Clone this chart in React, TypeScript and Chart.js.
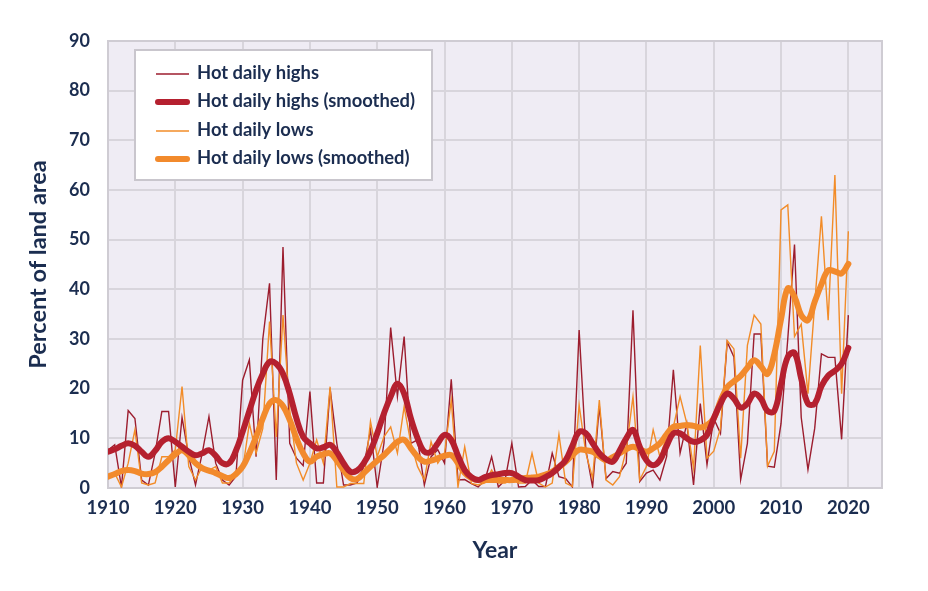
import React, { useEffect, useRef } from "react";
import { Chart, registerables } from "chart.js";

Chart.register(...registerables);

const years: number[] = Array.from({ length: 111 }, (_, i) => 1910 + i);

const hotHighs: number[] = [
  7.6, 8.7, 0.2, 15.6, 14, 1.6, 0.6, 7, 15.4, 15.4,
  0.2, 14.2, 6.3, 0.6, 7, 14.4, 5, 1.6, 0.6, 2.3,
  21.7, 25.8, 6.3, 30, 41.2, 1.6, 48.5, 9, 6, 4.5,
  19.4, 1, 1, 20, 9, 0.6, 0.6, 1, 4.3, 11.7,
  0.2, 9, 32.3, 18.4, 30.5, 9, 9.7, 0.6, 6.3, 7.7,
  5, 21.9, 1.6, 1.7, 0.9, 0.2, 1.6, 6.3, 0.2, 1.6,
  9, 0.2, 0.3, 1.6, 0.3, 0.3, 7, 2.3, 1.9, 0.2,
  31.8, 7.7, 0.2, 16.5, 1.9, 3.3, 3, 5, 35.8, 1.3,
  3, 3.6, 1.6, 6.3, 23.8, 7, 13, 0.6, 17, 4.7,
  14, 11, 29.4, 26.4, 1.7, 9, 31, 31, 4.4, 4.2,
  13, 30, 49, 14.2, 3.7, 12, 27, 26.3, 26.3, 9.8,
  34.8,
];

const hotHighsSmoothed: number[] = [
  7.3, 7.8, 8.5, 9, 8.5, 7.3, 6.3, 7.5, 9.3, 10,
  9.3, 8.3, 7.3, 6.6, 7, 7.6, 6.5, 5, 5, 7.5,
  11.3, 15.5, 19.7, 23, 25.4, 25, 23, 19, 14, 10.3,
  9, 8, 8.2, 8.7, 7.2, 5, 3.3, 3.5, 5, 7.5,
  11, 15, 18.4, 21, 19, 14, 10, 7.3, 7.3, 9,
  10.7, 9.7, 6.5, 3.6, 2.2, 1.6, 2.2, 2.6, 2.8, 3,
  3, 2.3, 1.6, 1.5, 1.6, 2.2, 3, 4.2, 5.6, 8.5,
  11.3, 11, 9, 7, 5.8, 5.3, 7.5, 10, 11.7, 8.3,
  5.6, 4.6, 5.6, 8.5, 11, 11, 10, 9.3, 9.6, 10.7,
  14, 17, 19, 18, 16.2, 17, 19, 18, 15.5, 15.5,
  21, 26.4, 27.2, 22, 17, 17, 20.5, 22.6, 23.6, 25,
  28.2,
];

const hotLows: number[] = [
  2.3, 3, 0.2, 5, 11.7, 1, 0.6, 1, 6.3, 6.3,
  7.7, 20.4, 4.3, 1.6, 4.3, 3.6, 4.3, 1, 1, 3,
  3.6, 13, 7, 12, 33.5, 10.3, 34.8, 15.7, 5, 1.6,
  5, 9.7, 5, 20.4, 0.2, 0.2, 0.9, 0.9, 0.9, 13.4,
  6.3, 10.3, 12.3, 7, 16.4, 9, 4.3, 1.6, 9.3, 5,
  7, 17.7, 0.2, 8.3, 0.9, 0.6, 1, 3.6, 1, 1,
  1.6, 1, 1, 7, 1, 0.2, 1, 10.8, 1, 0.3,
  16.7, 7, 2, 17.7, 1.6, 0.6, 2.3, 7.7, 18.4, 1.6,
  4.3, 11.7, 6.3, 10.3, 12.3, 18.4, 13, 4, 28.7, 6,
  7.4, 12, 29.7, 28, 6, 28.7, 34.8, 33, 4.4, 7.4,
  56, 57, 30.5, 33, 19, 37, 54.7, 33.8, 63, 19,
  51.7,
];

const hotLowsSmoothed: number[] = [
  2.3, 2.8, 3.4, 3.6, 3.4, 2.9, 2.8, 3.2, 4.3, 5.6,
  6.8, 7.6, 6.6, 5, 4, 3.5, 3, 2.4, 2, 2.8,
  4.3, 7, 10.3, 14, 17, 17.7, 16.5, 13.7, 10, 7,
  5.3, 6.3, 6.8, 7, 5.5, 3.6, 2, 1.8, 3, 4.3,
  5.5, 6.6, 8, 9.3, 9.7, 8, 6.3, 5.3, 5.5, 6,
  6.5, 6.6, 5, 3, 2, 1.6, 1.6, 1.6, 1.6, 1.6,
  1.6, 1.8, 2, 2.1, 2.3, 2.7, 3.3, 4.2, 5.3, 6.6,
  7.7, 7.6, 7.3, 6.4, 5.6, 6.2, 7, 7.8, 8.3, 7.8,
  7.3, 8, 9, 10.8, 12.3, 12.5, 12.7, 12.5, 12.2, 12.7,
  14, 17.5, 20.3, 21.5, 22.6, 24.2, 25.7, 24.5, 23, 27,
  34, 40.2, 38.5, 34.8, 33.8, 37.5, 41, 43.8, 43.6, 43.2,
  45.1,
];

const seriesLabels: string[] = [
  "Hot daily highs",
  "Hot daily highs (smoothed)",
  "Hot daily lows",
  "Hot daily lows (smoothed)",
];

const xTickValues: number[] = [1910, 1920, 1930, 1940, 1950, 1960, 1970, 1980, 1990, 2000, 2010, 2020];

const TEXT = "#1b2d50";
const FONT = "Lato, 'Open Sans', sans-serif";
const C_HIGH = "#9c1d2e";
const C_HIGH_S = "#b5202f";
const C_LOW = "#f28c28";
const C_LOW_S = "#f28a2c";

export default function App() {
  const ref = useRef<HTMLCanvasElement | null>(null);

  useEffect(() => {
    if (!ref.current) return;
    const toPts = (arr: number[]) => years.map((y, i) => ({ x: y, y: arr[i] }));

    const bgPlugin = {
      id: "bgPlugin",
      beforeDraw(chart: any) {
        const { ctx, chartArea: a } = chart;
        ctx.save();
        ctx.fillStyle = "#ffffff";
        ctx.fillRect(0, 0, chart.width, chart.height);
        ctx.fillStyle = "#efecf4";
        ctx.fillRect(a.left, a.top, a.right - a.left, a.bottom - a.top);
        ctx.restore();
      },
      beforeDatasetsDraw(chart: any) {
        const { ctx, chartArea: a } = chart;
        ctx.save();
        ctx.strokeStyle = "#cfccd3";
        ctx.lineWidth = 2;
        ctx.strokeRect(a.left, a.top, a.right - a.left, a.bottom - a.top);
        ctx.restore();
      },
      afterDraw(chart: any) {
        const { ctx } = chart;
        ctx.save();
        const bx = 135, by = 50, bw = 297, bh = 130;
        ctx.fillStyle = "#ffffff";
        ctx.fillRect(bx, by, bw, bh);
        ctx.strokeStyle = "#c9c6cd";
        ctx.lineWidth = 2;
        ctx.strokeRect(bx, by, bw, bh);
        const items = [
          { c: C_HIGH, w: 1.5 },
          { c: C_HIGH_S, w: 6 },
          { c: C_LOW, w: 1.5 },
          { c: C_LOW_S, w: 6 },
        ];
        const rows = [73, 101, 130, 158];
        ctx.font = `bold 18.4px ${FONT}`;
        ctx.textBaseline = "middle";
        ctx.textAlign = "left";
        items.forEach((it, i) => {
          ctx.beginPath();
          ctx.strokeStyle = it.c;
          ctx.lineWidth = it.w;
          ctx.lineCap = it.w > 2 ? "round" : "butt";
          ctx.moveTo(it.w > 2 ? 158 : 156, rows[i] + 1);
          ctx.lineTo(it.w > 2 ? 187 : 189, rows[i] + 1);
          ctx.stroke();
          ctx.fillStyle = TEXT;
          ctx.fillText(seriesLabels[i], 197, rows[i]);
        });
        ctx.restore();
      },
    };

    const chart = new Chart(ref.current, {
      type: "line",
      data: {
        datasets: [
          { label: seriesLabels[0], data: toPts(hotHighs), borderColor: C_HIGH, borderWidth: 1.4, pointRadius: 0, tension: 0, order: 4 },
          { label: seriesLabels[2], data: toPts(hotLows), borderColor: C_LOW, borderWidth: 1.4, pointRadius: 0, tension: 0, order: 3 },
          { label: seriesLabels[3], data: toPts(hotLowsSmoothed), borderColor: C_LOW_S, borderWidth: 6, pointRadius: 0, tension: 0.4, order: 2, borderCapStyle: "round", borderJoinStyle: "round" },
          { label: seriesLabels[1], data: toPts(hotHighsSmoothed), borderColor: C_HIGH_S, borderWidth: 6, pointRadius: 0, tension: 0.4, order: 1, borderCapStyle: "round", borderJoinStyle: "round" },
        ] as any,
      },
      options: {
        responsive: false,
        animation: false,
        devicePixelRatio: 1,
        layout: { padding: { left: 0, top: 41, right: 46, bottom: 0 } },
        plugins: { legend: { display: false }, tooltip: { enabled: false } },
        scales: {
          x: {
            type: "linear",
            min: 1910,
            max: 2025,
            afterFit: (s: any) => { s.height = 103; },
            afterBuildTicks: (s: any) => {
              s.ticks = [...xTickValues, 2025].map((v) => ({ value: v }));
            },
            ticks: {
              padding: 9,
              color: TEXT,
              font: { family: FONT, size: 18.5, weight: "bold" },
              maxRotation: 0,
              autoSkip: false,
              callback: (v: any) => (xTickValues.includes(Number(v)) ? String(v) : ""),
            },
            grid: { color: "#d8d5dc", lineWidth: 2, drawTicks: false },
            border: { display: false },
            title: {
              display: true,
              text: "Year",
              color: TEXT,
              font: { family: FONT, size: 23, weight: "bold" },
              padding: { top: 0, bottom: 27 },
            },
          },
          y: {
            min: 0,
            max: 90,
            afterFit: (s: any) => { s.width = 108; },
            ticks: {
              stepSize: 10,
              padding: 18,
              color: TEXT,
              font: { family: FONT, size: 18, weight: "bold" },
            },
            grid: { color: "#d8d5dc", lineWidth: 2, drawTicks: false },
            border: { display: false },
            title: {
              display: true,
              text: "Percent of land area",
              color: TEXT,
              font: { family: FONT, size: 23.5, weight: "bold" },
              padding: { top: 24, bottom: 0 },
            },
          },
        },
      } as any,
      plugins: [bgPlugin],
    });
    return () => chart.destroy();
  }, []);

  return (
    <div style={{ position: "fixed", left: 0, top: 0, width: 928, height: 591, background: "#fff" }}>
      <canvas ref={ref} width={928} height={591} style={{ width: 928, height: 591, display: "block" }} />
    </div>
  );
}
